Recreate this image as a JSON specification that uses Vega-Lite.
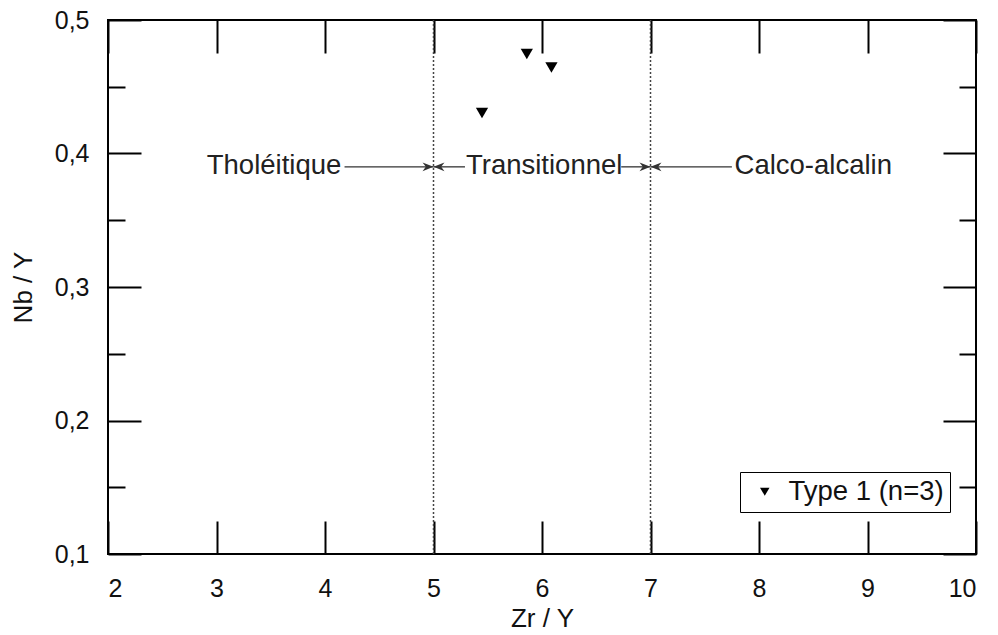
{
  "$schema": "https://vega.github.io/schema/vega-lite/v6.json",
  "width": 868,
  "height": 534,
  "autosize": "none",
  "padding": {"left": 108, "top": 20, "right": 22, "bottom": 81},
  "background": "white",
  "config": {
    "view": {"stroke": "#000", "strokeWidth": 2},
    "font": "Liberation Sans",
    "axis": {
      "domain": false,
      "grid": false,
      "tickColor": "#000",
      "tickWidth": 2,
      "labelFont": "Liberation Sans",
      "labelFontSize": 25,
      "labelColor": "#111",
      "titleFont": "Liberation Sans",
      "titleFontSize": 26,
      "titleFontWeight": "normal",
      "titleColor": "#111"
    }
  },
  "datasets": {
    "pts": [
      {"zr": 5.86, "nb": 0.4745, "type": "Type 1 (n=3)"},
      {"zr": 6.087, "nb": 0.4644, "type": "Type 1 (n=3)"},
      {"zr": 5.447, "nb": 0.4303, "type": "Type 1 (n=3)"}
    ],
    "vlines": [{"x": 5}, {"x": 7}],
    "arrows": [
      {"x1": 4.18, "x2": 5, "y": 0.39},
      {"x1": 5.29, "x2": 5, "y": 0.39},
      {"x1": 6.73, "x2": 7, "y": 0.39},
      {"x1": 7.75, "x2": 7, "y": 0.39}
    ],
    "heads": [
      {"x": 5, "y": 0.39, "dir": "right"},
      {"x": 5, "y": 0.39, "dir": "left"},
      {"x": 7, "y": 0.39, "dir": "right"},
      {"x": 7, "y": 0.39, "dir": "left"}
    ],
    "labels": [
      {"x": 3.53, "y": 0.39, "label": "Tholéitique"},
      {"x": 6.02, "y": 0.39, "label": "Transitionnel"},
      {"x": 8.5, "y": 0.39, "label": "Calco-alcalin"}
    ]
  },
  "layer": [
    {
      "data": {"name": "vlines"},
      "mark": {"type": "rule", "color": "#444", "strokeWidth": 1.5, "strokeDash": [2, 2]},
      "encoding": {
        "x": {"field": "x", "type": "quantitative", "scale": {"domain": [2, 10], "nice": false, "zero": false}, "axis": null}
      }
    },
    {
      "data": {"name": "arrows"},
      "mark": {"type": "rule", "color": "#333", "strokeWidth": 1.3},
      "encoding": {
        "x": {"field": "x1", "type": "quantitative", "scale": {"domain": [2, 10], "nice": false, "zero": false},
          "axis": {"orient": "top", "values": [2, 3, 4, 5, 6, 7, 8, 9, 10], "labels": false, "title": null, "tickSize": -33}},
        "x2": {"field": "x2"},
        "y": {"field": "y", "type": "quantitative", "scale": {"domain": [0.1, 0.5], "nice": false, "zero": false},
          "axis": {"orient": "right", "values": [0.1, 0.15, 0.2, 0.25, 0.3, 0.35, 0.4, 0.45, 0.5], "labels": false, "title": null,
            "tickSize": {"condition": {"test": "abs(datum.value*10 - round(datum.value*10)) > 0.01", "value": -17}, "value": -33}}}
      }
    },
    {
      "data": {"name": "heads"},
      "mark": {"type": "point", "filled": true, "color": "#333", "size": 480, "opacity": 1},
      "encoding": {
        "x": {"field": "x", "type": "quantitative", "scale": {"domain": [2, 10], "nice": false, "zero": false}, "axis": null},
        "y": {"field": "y", "type": "quantitative", "scale": {"domain": [0.1, 0.5], "nice": false, "zero": false}, "axis": null},
        "shape": {"field": "dir", "type": "nominal", "legend": null,
          "scale": {"domain": ["right", "left"], "range": ["M0,0L-1,-0.4L-0.7,0L-1,0.4Z", "M0,0L1,-0.4L0.7,0L1,0.4Z"]}}
      }
    },
    {
      "data": {"name": "labels"},
      "mark": {"type": "text", "font": "Liberation Sans", "fontSize": 27.5, "color": "#222", "align": "center", "baseline": "middle", "dy": -1},
      "encoding": {
        "x": {"field": "x", "type": "quantitative", "scale": {"domain": [2, 10], "nice": false, "zero": false}, "axis": null},
        "y": {"field": "y", "type": "quantitative", "scale": {"domain": [0.1, 0.5], "nice": false, "zero": false}, "axis": null},
        "text": {"field": "label"}
      }
    },
    {
      "data": {"name": "pts"},
      "mark": {"type": "point", "filled": true, "color": "#000", "size": 150, "opacity": 1},
      "encoding": {
        "x": {"field": "zr", "type": "quantitative", "scale": {"domain": [2, 10], "nice": false, "zero": false},
          "axis": {"orient": "bottom", "values": [2, 3, 4, 5, 6, 7, 8, 9, 10], "title": "Zr / Y", "tickSize": -33, "labelPadding": 55, "titlePadding": 4}},
        "y": {"field": "nb", "type": "quantitative", "scale": {"domain": [0.1, 0.5], "nice": false, "zero": false},
          "axis": {"orient": "left", "values": [0.1, 0.15, 0.2, 0.25, 0.3, 0.35, 0.4, 0.45, 0.5], "title": "Nb / Y",
            "labelExpr": "abs(datum.value*10 - round(datum.value*10)) > 0.01 ? '' : replace(format(datum.value, '.1f'), '.', ',')",
            "tickSize": {"condition": {"test": "abs(datum.value*10 - round(datum.value*10)) > 0.01", "value": -17}, "value": -33},
            "labelPadding": 52, "titlePadding": 18}},
        "shape": {"field": "type", "type": "nominal",
          "scale": {"domain": ["Type 1 (n=3)"], "range": ["triangle-down"]},
          "legend": {"orient": "none", "legendX": 632, "legendY": 452, "title": null, "strokeColor": "#000", "fillColor": "white",
            "padding": 6, "labelFont": "Liberation Sans", "labelFontSize": 27.5, "labelColor": "#111", "symbolSize": 90,
            "symbolFillColor": "#000", "symbolStrokeColor": "#000", "symbolOffset": 5, "labelOffset": 10}}
      }
    }
  ],
  "resolve": {"axis": {"x": "independent", "y": "independent"}, "scale": {"shape": "independent"}}
}
